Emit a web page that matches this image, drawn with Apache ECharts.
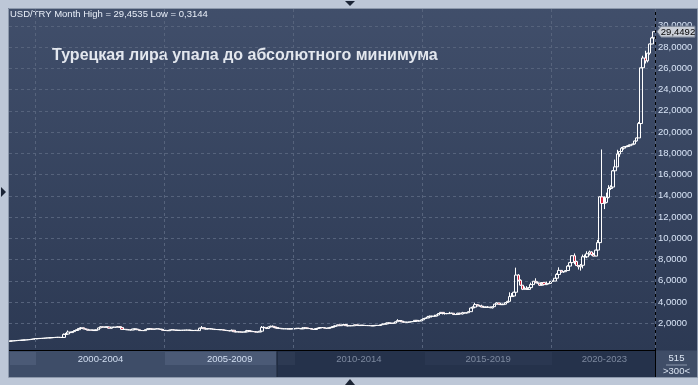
<!DOCTYPE html>
<html>
<head>
<meta charset="utf-8">
<script src="https://cdn.jsdelivr.net/npm/echarts@6/dist/echarts.min.js"></script>
<style>html,body{margin:0;padding:0;background:#bdc7d7}#c{width:698px;height:385px}</style>
</head>
<body>
<div id="c"></div>
<script>
const years = [1999,2000,2001,2002,2003,2004,2005,2006,2007,2008,2009,2010,2011,2012,2013,2014,2015,2016,2017,2018,2019,2020,2021,2022,2023];
const months = ['01','02','03','04','05','06','07','08','09','10','11','12'];

const open = [
0.316,0.336,0.351,0.366,0.383,0.397,0.413,0.427,0.441,0.458,0.477,0.509,
0.541,0.557,0.573,0.582,0.594,0.611,0.627,0.637,0.653,0.666,0.680,0.689,
0.673,0.672,0.960,0.992,1.182,1.129,1.222,1.326,1.401,1.520,1.580,1.480,
1.446,1.352,1.377,1.355,1.320,1.394,1.569,1.674,1.640,1.654,1.662,1.537,
1.642,1.638,1.633,1.690,1.613,1.431,1.434,1.388,1.388,1.367,1.473,1.459,
1.397,1.318,1.323,1.313,1.408,1.491,1.483,1.433,1.469,1.490,1.462,1.422,
1.342,1.330,1.305,1.371,1.396,1.365,1.346,1.335,1.346,1.350,1.357,1.367,
1.350,1.322,1.321,1.347,1.313,1.544,1.589,1.487,1.465,1.508,1.462,1.455,
1.416,1.420,1.404,1.393,1.358,1.324,1.309,1.283,1.345,1.208,1.188,1.205,
1.165,1.181,1.196,1.313,1.278,1.219,1.225,1.171,1.177,1.261,1.617,1.580,
1.517,1.653,1.724,1.667,1.595,1.538,1.529,1.482,1.490,1.481,1.479,1.472,
1.496,1.495,1.540,1.520,1.480,1.561,1.576,1.505,1.515,1.443,1.419,1.510,
1.543,1.606,1.593,1.545,1.524,1.588,1.627,1.698,1.765,1.858,1.777,1.841,
1.889,1.780,1.756,1.780,1.770,1.862,1.809,1.790,1.829,1.794,1.792,1.786,
1.783,1.758,1.800,1.807,1.796,1.869,1.929,1.942,2.034,2.027,1.995,2.024,
2.147,2.262,2.216,2.135,2.110,2.092,2.124,2.149,2.172,2.281,2.222,2.222,
2.329,2.449,2.502,2.598,2.676,2.658,2.679,2.781,2.925,3.032,2.921,2.919,
2.913,2.953,2.951,2.825,2.834,2.951,2.881,2.997,2.962,2.998,3.097,3.441,
3.522,3.762,3.643,3.641,3.529,3.518,3.512,3.521,3.456,3.566,3.804,3.921,
3.792,3.758,3.804,3.955,4.070,4.517,4.569,4.925,6.541,6.052,5.588,5.206,
5.290,5.190,5.359,5.644,5.960,5.828,5.777,5.585,5.833,5.643,5.718,5.755,
5.953,5.979,6.244,6.598,6.982,6.833,6.858,6.968,7.386,7.712,8.360,7.822,
7.433,7.328,7.463,8.267,8.254,8.548,8.718,8.481,8.325,8.890,9.595,13.900,
13.280,13.380,13.855,14.687,14.821,16.352,16.725,17.929,18.173,18.482,18.604,18.641,
18.710,18.803,18.879,19.160,19.446,20.800,26.047,26.967,26.700,27.425,28.290,28.859
];
const close = [
0.336,0.351,0.366,0.383,0.397,0.413,0.427,0.441,0.458,0.477,0.509,0.541,
0.557,0.573,0.582,0.594,0.611,0.627,0.637,0.653,0.666,0.680,0.689,0.673,
0.672,0.960,0.992,1.182,1.129,1.222,1.326,1.401,1.520,1.580,1.480,1.446,
1.352,1.377,1.355,1.320,1.394,1.569,1.674,1.640,1.654,1.662,1.537,1.642,
1.638,1.633,1.690,1.613,1.431,1.434,1.388,1.388,1.367,1.473,1.459,1.397,
1.318,1.323,1.313,1.408,1.491,1.483,1.433,1.469,1.490,1.462,1.422,1.342,
1.330,1.305,1.371,1.396,1.365,1.346,1.335,1.346,1.350,1.357,1.367,1.350,
1.322,1.321,1.347,1.313,1.544,1.589,1.487,1.465,1.508,1.462,1.455,1.416,
1.420,1.404,1.393,1.358,1.324,1.309,1.283,1.345,1.208,1.188,1.205,1.165,
1.181,1.196,1.313,1.278,1.219,1.225,1.171,1.177,1.261,1.617,1.580,1.517,
1.653,1.724,1.667,1.595,1.538,1.529,1.482,1.490,1.481,1.479,1.472,1.496,
1.495,1.540,1.520,1.480,1.561,1.576,1.505,1.515,1.443,1.419,1.510,1.543,
1.606,1.593,1.545,1.524,1.588,1.627,1.698,1.765,1.858,1.777,1.841,1.889,
1.780,1.756,1.780,1.770,1.862,1.809,1.790,1.829,1.794,1.792,1.786,1.783,
1.758,1.800,1.807,1.796,1.869,1.929,1.942,2.034,2.027,1.995,2.024,2.147,
2.262,2.216,2.135,2.110,2.092,2.124,2.149,2.172,2.281,2.222,2.222,2.329,
2.449,2.502,2.598,2.676,2.658,2.679,2.781,2.925,3.032,2.921,2.919,2.913,
2.953,2.951,2.825,2.834,2.951,2.881,2.997,2.962,2.998,3.097,3.441,3.522,
3.762,3.643,3.641,3.529,3.518,3.512,3.521,3.456,3.566,3.804,3.921,3.792,
3.758,3.804,3.955,4.070,4.517,4.569,4.925,6.541,6.052,5.588,5.206,5.290,
5.190,5.359,5.644,5.960,5.828,5.777,5.585,5.833,5.643,5.718,5.755,5.953,
5.979,6.244,6.598,6.982,6.833,6.858,6.968,7.386,7.712,8.360,7.822,7.433,
7.328,7.463,8.267,8.254,8.548,8.718,8.481,8.325,8.890,9.595,13.900,13.280,
13.380,13.855,14.687,14.821,16.352,16.725,17.929,18.173,18.482,18.604,18.641,18.710,
18.803,18.879,19.160,19.446,20.800,26.047,26.967,26.700,27.425,28.290,28.859,29.4492
];
const high = [
0.337,0.352,0.367,0.384,0.398,0.414,0.428,0.442,0.459,0.478,0.510,0.542,
0.558,0.574,0.583,0.595,0.612,0.628,0.638,0.654,0.667,0.681,0.712,0.692,
0.680,1.050,1.100,1.330,1.200,1.260,1.360,1.420,1.560,1.650,1.590,1.500,
1.450,1.400,1.390,1.370,1.420,1.600,1.730,1.680,1.670,1.680,1.670,1.660,
1.660,1.660,1.740,1.700,1.620,1.480,1.440,1.410,1.400,1.480,1.500,1.470,
1.400,1.340,1.340,1.410,1.550,1.520,1.490,1.480,1.510,1.500,1.470,1.430,
1.370,1.340,1.390,1.420,1.410,1.380,1.360,1.360,1.370,1.380,1.390,1.370,
1.360,1.340,1.360,1.360,1.590,1.750,1.590,1.500,1.530,1.520,1.490,1.460,
1.450,1.440,1.430,1.400,1.370,1.350,1.320,1.420,1.350,1.230,1.230,1.220,
1.200,1.220,1.380,1.330,1.290,1.280,1.240,1.220,1.300,1.750,1.720,1.620,
1.700,1.780,1.800,1.690,1.620,1.600,1.550,1.510,1.510,1.510,1.530,1.530,
1.510,1.560,1.560,1.530,1.630,1.620,1.580,1.530,1.520,1.460,1.530,1.580,
1.620,1.620,1.620,1.560,1.600,1.650,1.720,1.820,1.880,1.900,1.880,1.960,
1.900,1.790,1.800,1.800,1.880,1.870,1.830,1.830,1.830,1.820,1.820,1.800,
1.790,1.810,1.830,1.820,1.890,1.980,1.980,2.080,2.070,2.030,2.060,2.180,
2.390,2.280,2.270,2.160,2.150,2.150,2.160,2.190,2.300,2.300,2.270,2.390,
2.460,2.510,2.700,2.730,2.700,2.810,2.830,2.960,3.070,3.040,2.950,2.980,
3.080,2.990,2.970,2.870,2.990,2.990,3.080,3.000,3.030,3.120,3.470,3.590,
3.940,3.760,3.750,3.750,3.650,3.580,3.620,3.580,3.600,3.830,3.990,3.930,
3.820,3.850,3.990,4.120,4.920,4.850,4.970,7.240,6.630,6.140,5.600,5.470,
5.500,5.420,5.830,5.990,6.240,5.950,5.810,5.850,5.860,5.930,5.790,5.960,
6.000,6.250,6.720,7.270,7.000,6.880,7.000,7.470,7.780,8.420,8.580,7.890,
7.460,7.580,8.470,8.470,8.780,8.840,8.770,8.630,8.920,9.850,13.950,18.360,
13.950,14.300,15.000,14.990,16.430,17.410,18.330,18.180,18.590,18.660,18.690,18.760,
18.830,18.900,19.190,19.480,20.950,26.070,27.180,27.650,27.450,28.320,28.960,29.4535
];
const low = [
0.3144,0.335,0.350,0.365,0.382,0.396,0.412,0.426,0.440,0.457,0.476,0.508,
0.540,0.556,0.572,0.581,0.593,0.610,0.626,0.636,0.652,0.665,0.679,0.665,
0.665,0.668,0.930,0.990,1.080,1.120,1.210,1.300,1.390,1.480,1.440,1.390,
1.330,1.340,1.340,1.300,1.310,1.390,1.530,1.600,1.610,1.620,1.520,1.500,
1.600,1.610,1.620,1.590,1.410,1.390,1.380,1.370,1.330,1.360,1.420,1.390,
1.310,1.300,1.300,1.310,1.400,1.460,1.420,1.420,1.460,1.450,1.410,1.340,
1.310,1.280,1.300,1.360,1.350,1.320,1.320,1.320,1.330,1.340,1.350,1.340,
1.310,1.300,1.310,1.300,1.310,1.510,1.470,1.430,1.440,1.440,1.430,1.400,
1.380,1.380,1.380,1.340,1.300,1.290,1.260,1.270,1.200,1.170,1.150,1.160,
1.150,1.160,1.180,1.240,1.200,1.200,1.150,1.150,1.170,1.250,1.480,1.460,
1.500,1.620,1.640,1.540,1.500,1.490,1.470,1.460,1.460,1.430,1.450,1.460,
1.440,1.490,1.500,1.460,1.470,1.530,1.490,1.480,1.440,1.390,1.400,1.490,
1.530,1.570,1.530,1.480,1.520,1.580,1.600,1.680,1.730,1.740,1.760,1.820,
1.770,1.720,1.740,1.750,1.760,1.790,1.770,1.770,1.780,1.780,1.770,1.770,
1.740,1.750,1.790,1.770,1.790,1.840,1.900,1.910,1.960,1.950,1.990,2.000,
2.140,2.170,2.120,2.080,2.060,2.080,2.100,2.140,2.160,2.180,2.190,2.210,
2.300,2.400,2.490,2.590,2.560,2.650,2.660,2.780,2.890,2.840,2.820,2.860,
2.900,2.900,2.810,2.780,2.820,2.850,2.840,2.920,2.930,2.990,3.080,3.400,
3.520,3.600,3.580,3.520,3.490,3.490,3.500,3.440,3.400,3.560,3.780,3.780,
3.730,3.740,3.780,3.940,4.050,4.500,4.540,4.900,5.940,5.540,5.130,5.170,
5.170,5.180,5.300,5.610,5.780,5.740,5.520,5.580,5.610,5.600,5.680,5.730,
5.910,5.970,6.190,6.560,6.770,6.760,6.830,6.920,7.300,7.700,7.560,7.420,
7.060,6.960,7.170,7.990,8.140,8.380,8.370,8.300,8.370,8.850,9.480,10.250,
12.750,13.300,13.760,14.550,14.750,16.250,16.730,17.670,18.120,18.340,18.500,18.590,
18.680,18.770,18.820,19.100,19.440,20.760,25.500,26.450,26.550,27.280,28.250,28.800
];

const yTicks = [2,4,6,8,10,12,14,16,18,20,22,24,26,28,30];
const periodLabels = ['2000-2004','2005-2009','2010-2014','2015-2019','2020-2023'];
const periodCenters = ['2002-07','2007-07','2012-07','2017-07','2022-01'];
const periodStarts = ['2000-01','2005-01','2010-01','2015-01','2020-01'];
const headerText = 'USD/TRY Month High = 29,4535 Low = 0,3144';
const titleText = 'Турецкая лира упала до абсолютного минимума';
const barCount = '515';
const zoomText = '>300<';

const categories = [];
years.forEach(y => months.forEach(m => categories.push(y + '-' + m)));
const ohlc = categories.map((c, i) => [open[i], close[i], low[i], high[i]]);
const fmt = v => v.toFixed(4).replace('.', ',');
const lastClose = close[close.length - 1];

const FONT = '"Liberation Sans", Arial, sans-serif';
const chart = echarts.init(document.getElementById('c'), null, {renderer: 'canvas'});

const frameGraphics = [
  // bottom navigation bar
  {type: 'rect', z: 50, shape: {x: 9, y: 350.5, width: 268, height: 26.5}, style: {fill: '#3e4d68'}},
  {type: 'rect', z: 51, shape: {x: 10, y: 352, width: 26, height: 13}, style: {fill: '#4b5a76'}},
  {type: 'rect', z: 51, shape: {x: 165, y: 352, width: 111, height: 13}, style: {fill: '#4b5a76'}},
  {type: 'rect', z: 50, shape: {x: 277, y: 350.5, width: 378, height: 26.5}, style: {fill: '#25324b'}},
  {type: 'rect', z: 51, shape: {x: 278, y: 352, width: 17, height: 13}, style: {fill: '#2d3a53'}},
  {type: 'rect', z: 51, shape: {x: 425, y: 352, width: 127, height: 13}, style: {fill: '#2a3751'}},
  {type: 'line', z: 52, shape: {x1: 277, y1: 351, x2: 277, y2: 377}, style: {stroke: '#1c2638', lineWidth: 1}},
  {type: 'line', z: 52, shape: {x1: 9, y1: 350.5, x2: 655, y2: 350.5}, style: {stroke: '#000', lineWidth: 1}},
  // right box
  {type: 'rect', z: 50, shape: {x: 655.5, y: 350.5, width: 41.5, height: 26.5}, style: {fill: '#3f4d67'}},
  {type: 'line', z: 52, shape: {x1: 655.5, y1: 9, x2: 655.5, y2: 377}, style: {stroke: '#000', lineWidth: 1}},
  {type: 'line', z: 52, shape: {x1: 666, y1: 365, x2: 687, y2: 365}, style: {stroke: '#8a96ab', lineWidth: 1}},
  {type: 'text', z: 53, x: 676.5, y: 358, style: {text: barCount, fill: '#dde6f3', font: '9.5px ' + FONT, textAlign: 'center', textVerticalAlign: 'middle'}},
  {type: 'text', z: 53, x: 676.5, y: 371, style: {text: zoomText, fill: '#dde6f3', font: '9.5px ' + FONT, textAlign: 'center', textVerticalAlign: 'middle'}},
  // outer frame
  {type: 'rect', z: 60, shape: {x: 0, y: 0, width: 698, height: 8}, style: {fill: '#bdc7d7'}},
  {type: 'rect', z: 60, shape: {x: 0, y: 0, width: 8, height: 385}, style: {fill: '#bdc7d7'}},
  {type: 'rect', z: 60, shape: {x: 0, y: 377, width: 698, height: 8}, style: {fill: '#bdc7d7'}},
  {type: 'rect', z: 60, shape: {x: 697, y: 0, width: 1, height: 385}, style: {fill: '#bdc7d7'}},
  {type: 'rect', z: 61, shape: {x: 8.5, y: 8.5, width: 689, height: 369}, style: {fill: null, stroke: '#8c98ab', lineWidth: 1}},
  // small triangles
  {type: 'polygon', z: 62, shape: {points: [[345, 1], [355, 1], [350, 6]]}, style: {fill: '#1b2435'}},
  {type: 'polygon', z: 62, shape: {points: [[345, 385], [355, 385], [350, 379]]}, style: {fill: '#1b2435'}},
  {type: 'polygon', z: 62, shape: {points: [[1, 187], [1, 197], [6, 192]]}, style: {fill: '#1b2435'}}
];

chart.setOption({
  animation: false,
  backgroundColor: {
    type: 'linear', x: 0, y: 0, x2: 0, y2: 1,
    colorStops: [{offset: 0, color: '#414f6b'}, {offset: 1, color: '#2a3751'}]
  },
  title: [
    {text: headerText, left: 10, top: 9, padding: 0,
     textStyle: {color: '#e8eef8', fontSize: 9.5, fontWeight: 'normal', fontFamily: FONT}},
    {text: titleText, left: 52, top: 48, padding: 0,
     textStyle: {color: '#e3e7ee', fontSize: 16, fontWeight: 'bold', fontFamily: FONT}}
  ],
  grid: {left: 9, top: 9, width: 646, height: 341, containLabel: false},
  xAxis: {
    type: 'category',
    data: categories,
    boundaryGap: true,
    z: 55,
    axisLine: {show: false, onZero: false},
    axisTick: {show: false},
    axisLabel: {
      show: true,
      interval: (i, v) => periodCenters.indexOf(v) >= 0,
      formatter: v => periodLabels[periodCenters.indexOf(v)],
      color: (v, i) => (periodCenters.indexOf(v) < 2 ? '#d3dff2' : '#7d899f'),
      fontSize: 9.5,
      fontFamily: FONT,
      margin: 4
    },
    splitLine: {
      show: true,
      interval: (i, v) => periodStarts.indexOf(v) >= 0,
      lineStyle: {color: '#56637c', type: [3, 3], width: 1}
    }
  },
  yAxis: {
    type: 'value',
    position: 'right',
    min: -0.51,
    max: 31.58,
    axisLine: {show: false},
    axisTick: {show: false, customValues: yTicks},
    axisLabel: {
      customValues: yTicks,
      formatter: v => fmt(v),
      color: '#d8e4f6',
      fontSize: 9.5,
      fontFamily: FONT,
      margin: 3
    },
    splitLine: {show: true, lineStyle: {color: '#56637c', type: [3, 3], width: 1}}
  },
  series: [{
    type: 'candlestick',
    data: ohlc,
    barWidth: 3,
    itemStyle: {
      color: 'rgba(0,0,0,0)',
      color0: '#d4203c',
      borderColor: '#ffffff',
      borderColor0: '#ffffff',
      borderWidth: 1
    }
  }],
  graphic: frameGraphics
});

// price tag on the right axis, positioned through the chart's own y scale
const tagY = chart.convertToPixel({yAxisIndex: 0}, lastClose);
chart.setOption({
  graphic: frameGraphics.concat([
    {type: 'polygon', z: 70, shape: {points: [[657, tagY], [661, tagY - 5.5], [695, tagY - 5.5], [695, tagY + 5.5], [661, tagY + 5.5]]},
     style: {fill: '#c9ced7', stroke: '#6f7a8d', lineWidth: 1}},
    {type: 'text', z: 71, x: 678, y: tagY + 0.5,
     style: {text: fmt(lastClose), fill: '#000', font: '9.5px ' + FONT, textAlign: 'center', textVerticalAlign: 'middle'}}
  ])
});
</script>
</body>
</html>
